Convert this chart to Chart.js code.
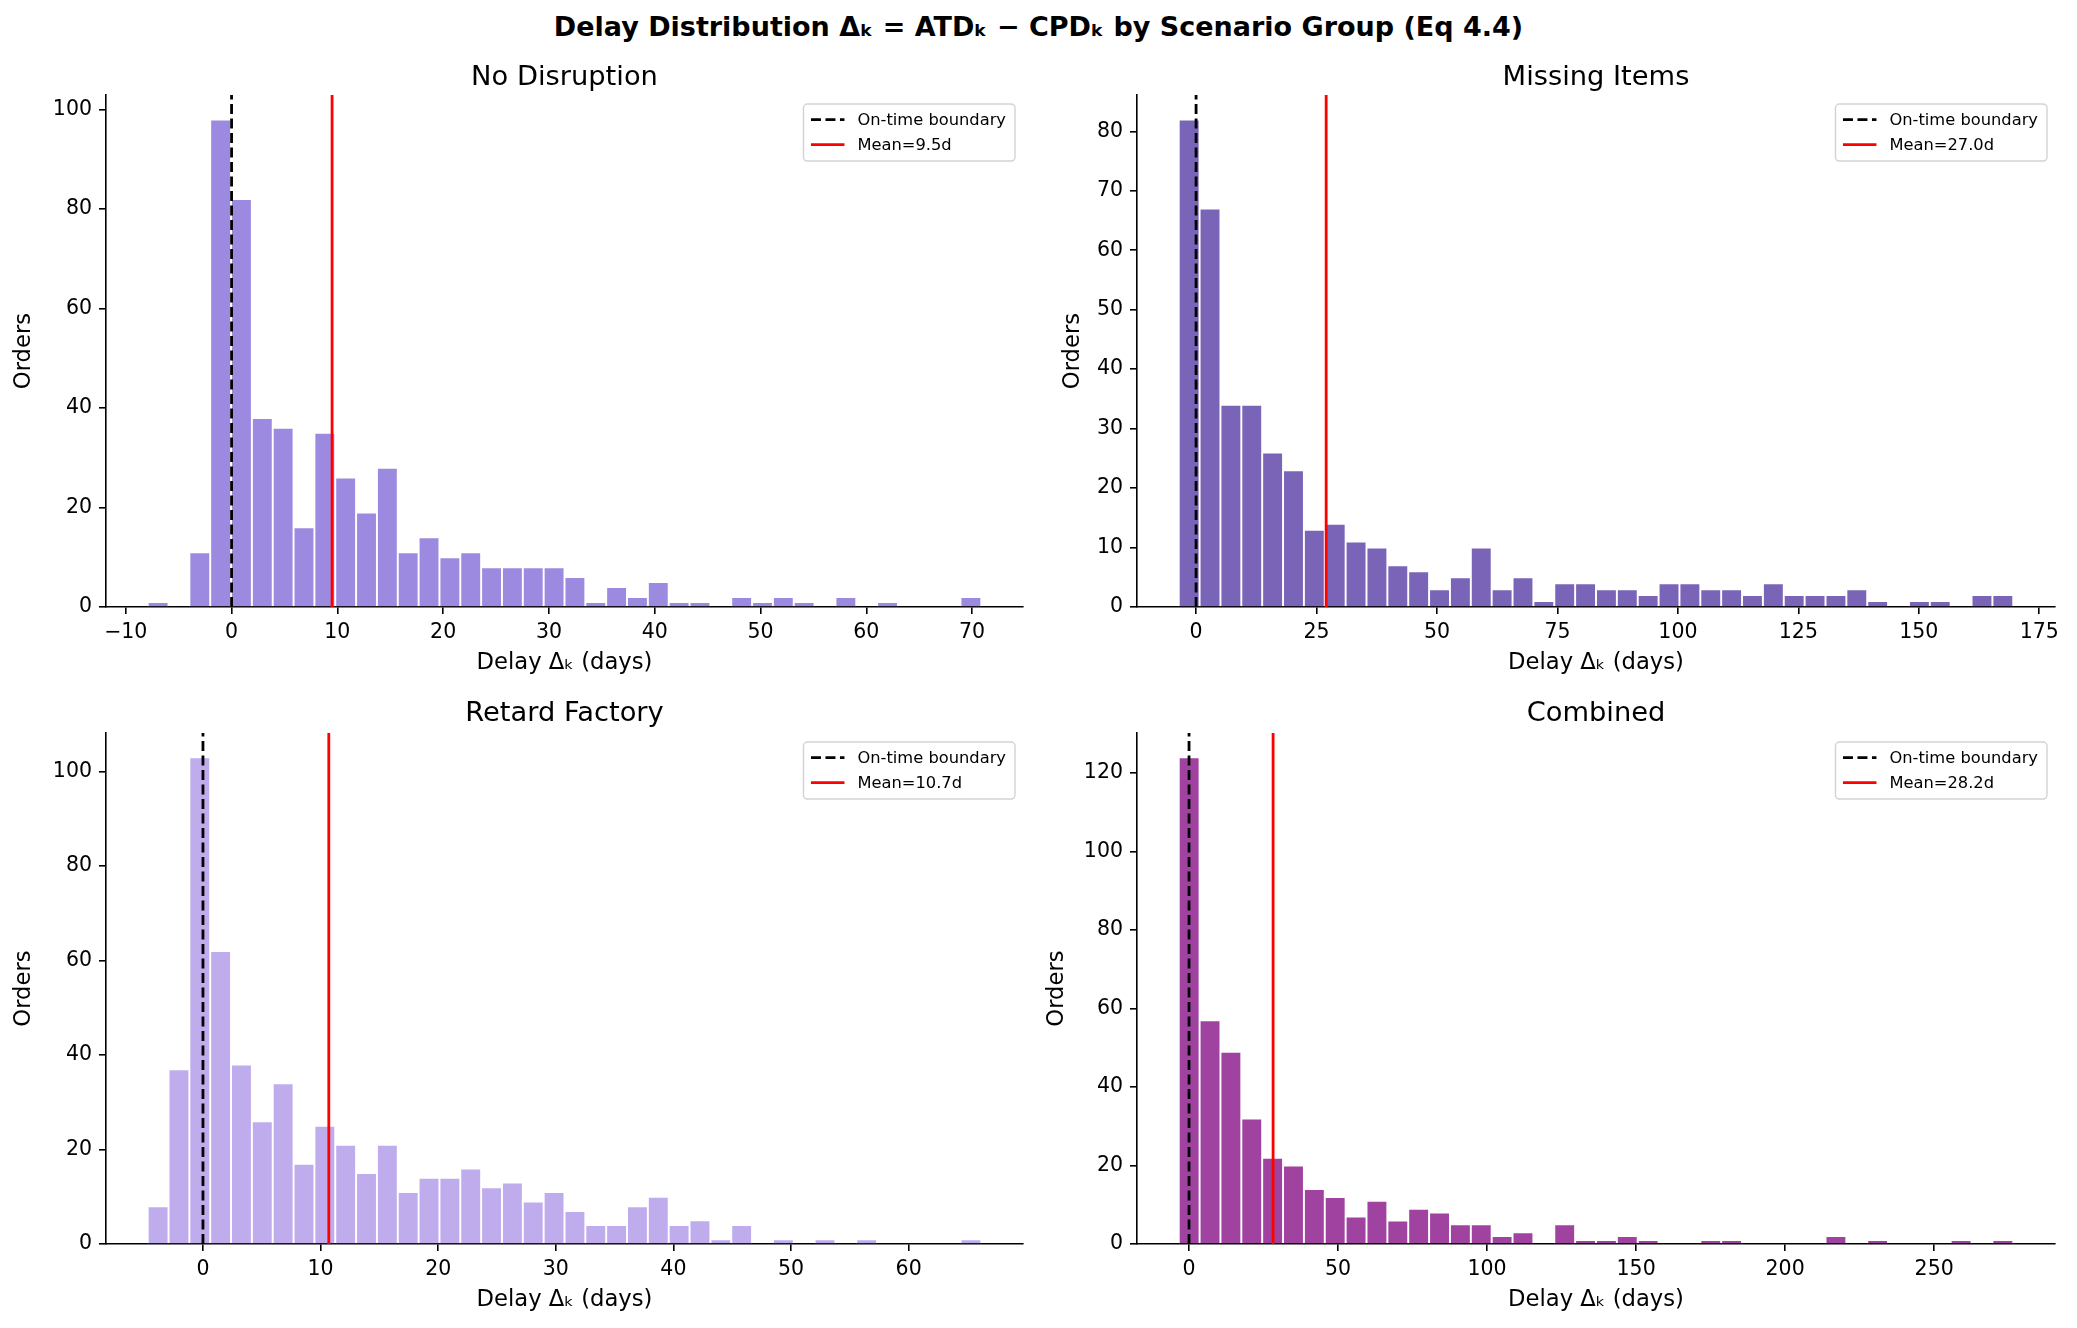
<!DOCTYPE html>
<html>
<head>
<meta charset="utf-8">
<script src="https://cdn.jsdelivr.net/npm/chart.js@4.4.1/dist/chart.umd.min.js"></script>
<style>
  html, body { margin: 0; padding: 0; background: #fff; }
  #page { position: relative; width: 2077px; height: 1328px; overflow: hidden; background: #fff; }
  #suptitle { position: absolute; left: 0; top: 8px; width: 2077px; text-align: center;
              font: bold 27px "DejaVu Sans", sans-serif; line-height: 37px; color: #000; }
  canvas { position: absolute; }
</style>
</head>
<body>
<div id="page">
  <div id="suptitle">Delay Distribution Δₖ = ATDₖ − CPDₖ by Scenario Group (Eq 4.4)</div>
  <canvas id="c0" width="1040" height="640" style="left:0px;top:40px"></canvas>
  <canvas id="c1" width="1037" height="640" style="left:1040px;top:40px"></canvas>
  <canvas id="c2" width="1040" height="648" style="left:0px;top:680px"></canvas>
  <canvas id="c3" width="1037" height="648" style="left:1040px;top:680px"></canvas>
</div>
<script>
// histogram data (40 bins per group)
var groups = ['No Disruption', 'Missing Items', 'Retard Factory', 'Combined'];
var binStart = [-7.93, -3.6, -4.7, -3.46];
var binWidth = [1.97, 4.33, 1.772, 7.0];

var countsNoDisruption = [1, 0, 11, 98, 82, 38, 36, 16, 35, 26, 19, 28, 11, 14, 10, 11, 8, 8, 8, 8,
  6, 1, 4, 2, 5, 1, 1, 0, 2, 1, 2, 1, 0, 2, 0, 1, 0, 0, 0, 2];
var countsMissingItems = [82, 67, 34, 34, 26, 23, 13, 14, 11, 10, 7, 6, 3, 5, 10, 3, 5, 1, 4, 4,
  3, 3, 2, 4, 4, 3, 3, 2, 4, 2, 2, 2, 3, 1, 0, 1, 1, 0, 2, 2];
var countsRetardFactory = [8, 37, 103, 62, 38, 26, 34, 17, 25, 21, 15, 21, 11, 14, 14, 16, 12, 13, 9, 11,
  7, 4, 4, 8, 10, 4, 5, 1, 4, 0, 1, 0, 1, 0, 1, 0, 0, 0, 0, 1];
var countsCombined = [124, 57, 49, 32, 22, 20, 14, 12, 7, 11, 6, 9, 8, 5, 5, 2, 3, 0, 5, 1,
  1, 2, 1, 0, 0, 1, 1, 0, 0, 0, 0, 2, 0, 1, 0, 0, 0, 1, 0, 1];
var counts = [countsNoDisruption, countsMissingItems, countsRetardFactory, countsCombined];

var meanDelay = [9.5, 27.0, 10.7, 28.2];
var onTimeBoundary = 0;

var xTicks = [
  [-10, 0, 10, 20, 30, 40, 50, 60, 70],
  [0, 25, 50, 75, 100, 125, 150, 175],
  [0, 10, 20, 30, 40, 50, 60],
  [0, 50, 100, 150, 200, 250]
];
var yTicks = [
  [0, 20, 40, 60, 80, 100],
  [0, 10, 20, 30, 40, 50, 60, 70, 80],
  [0, 20, 40, 60, 80, 100],
  [0, 20, 40, 60, 80, 100, 120]
];

var barColors = ['#9c8ae0', '#7a64b7', '#bfacec', '#a043a0'];

// per-panel layout (canvas pixels)
var panels = [
  { id: 'c0', yAxisW: 106, padRight: 17, titlePad: { top: 22, bottom: 0.3 }, xAxisH: 73, xTitlePad: 3.4, yTitlePad: 10.4 },
  { id: 'c1', yAxisW: 97, padRight: 22, titlePad: { top: 22, bottom: 0.3 }, xAxisH: 73, xTitlePad: 3.4, yTitlePad: 19.4 },
  { id: 'c2', yAxisW: 106, padRight: 17, titlePad: { top: 18, bottom: 2.3 }, xAxisH: 84, xTitlePad: 14.4, yTitlePad: 10.4 },
  { id: 'c3', yAxisW: 97, padRight: 22, titlePad: { top: 18, bottom: 2.3 }, xAxisH: 84, xTitlePad: 14.4, yTitlePad: 3.4 }
];

var FONT = '"DejaVu Sans", "Noto Sans", sans-serif';

// matplotlib-style legend box in the upper right of the axes
var legendBox = {
  id: 'legendBox',
  afterDraw: function (chart) {
    var ctx = chart.ctx, area = chart.chartArea;
    var items = chart.data.datasets.filter(function (d) { return d.type === 'line'; });
    ctx.save();
    ctx.font = '16.3px ' + FONT;
    var textW = Math.max.apply(null, items.map(function (d) { return ctx.measureText(d.label).width; }));
    var w = 7.5 + 33 + 13 + textW + 9.5, h = 57;
    var x0 = area.right - 8 - w, y0 = area.top + 9;
    ctx.beginPath();
    if (ctx.roundRect) ctx.roundRect(x0, y0, w, h, 4); else ctx.rect(x0, y0, w, h);
    ctx.fillStyle = 'rgba(255,255,255,0.8)';
    ctx.fill();
    ctx.strokeStyle = '#d3d3d3';
    ctx.lineWidth = 1.4;
    ctx.stroke();
    items.forEach(function (d, i) {
      var y = y0 + 15.5 + i * 25;
      ctx.beginPath();
      ctx.setLineDash(d.borderDash || []);
      ctx.strokeStyle = d.borderColor;
      ctx.lineWidth = d.borderWidth;
      ctx.moveTo(x0 + 7.5, y);
      ctx.lineTo(x0 + 41, y);
      ctx.stroke();
      ctx.setLineDash([]);
      ctx.fillStyle = '#000';
      ctx.textBaseline = 'middle';
      ctx.textAlign = 'left';
      ctx.fillText(d.label, x0 + 54, y + 1);
    });
    ctx.restore();
  }
};

function fmtTick(v) {
  return v < 0 ? '\u2212' + Math.abs(v) : String(v);
}

function makeChart(g) {
  var p = panels[g];
  var c = counts[g];
  var lo = binStart[g], hi = binStart[g] + c.length * binWidth[g];
  var xPad = 0.05 * (hi - lo);
  var yMax = 1.05 * Math.max.apply(null, c);

  var bars = c.map(function (v, k) {
    return { x: binStart[g] + (k + 0.5) * binWidth[g], y: v };
  });

  new Chart(document.getElementById(p.id), {
    type: 'bar',
    data: {
      datasets: [
        {
          label: groups[g],
          data: bars,
          backgroundColor: barColors[g],
          borderColor: 'rgba(255,255,255,0.85)',
          borderWidth: 1.3,
          barPercentage: 1,
          categoryPercentage: 1,
          order: 3
        },
        {
          type: 'line',
          label: 'On-time boundary',
          data: [{ x: onTimeBoundary, y: 0 }, { x: onTimeBoundary, y: yMax }],
          borderColor: '#000',
          borderWidth: 2.8,
          borderDash: [10, 4.5],
          pointRadius: 0,
          fill: false,
          order: 2
        },
        {
          type: 'line',
          label: 'Mean=' + meanDelay[g].toFixed(1) + 'd',
          data: [{ x: meanDelay[g], y: 0 }, { x: meanDelay[g], y: yMax }],
          borderColor: '#ff0000',
          borderWidth: 2.8,
          pointRadius: 0,
          fill: false,
          order: 1
        }
      ]
    },
    options: {
      responsive: false,
      animation: false,
      layout: { padding: { left: 0, right: p.padRight, top: 0, bottom: 0 } },
      plugins: {
        legend: { display: false },
        tooltip: { enabled: false },
        title: {
          display: true,
          fullSize: false,
          text: groups[g],
          color: '#000',
          font: { family: FONT, size: 27.3, weight: 'normal', lineHeight: 1.2 },
          padding: p.titlePad
        }
      },
      scales: {
        x: {
          type: 'linear',
          min: lo - xPad,
          max: hi + xPad,
          offset: false,
          grid: { display: true, offset: false, drawOnChartArea: false, drawTicks: true, tickLength: 7, color: '#000', lineWidth: 1.6 },
          border: { display: true, color: '#000', width: 1.6 },
          ticks: { autoSkip: false, maxRotation: 0, padding: 6, color: '#000', font: { family: FONT, size: 20.5 }, callback: fmtTick },
          afterBuildTicks: function (s) { s.ticks = xTicks[g].map(function (v) { return { value: v }; }); },
          afterFit: function (s) { s.height = p.xAxisH; },
          title: { display: true, text: 'Delay Δₖ (days)', color: '#000', font: { family: FONT, size: 22.7, lineHeight: 1.2 }, padding: { top: 0, bottom: p.xTitlePad } }
        },
        y: {
          type: 'linear',
          min: 0,
          max: yMax,
          grid: { display: true, drawOnChartArea: false, drawTicks: true, tickLength: 7, color: '#000', lineWidth: 1.6 },
          border: { display: true, color: '#000', width: 1.6 },
          ticks: { autoSkip: false, padding: 7, color: '#000', font: { family: FONT, size: 20.5 }, callback: fmtTick },
          afterBuildTicks: function (s) { s.ticks = yTicks[g].map(function (v) { return { value: v }; }); },
          afterFit: function (s) { s.width = p.yAxisW; },
          title: { display: true, text: 'Orders', color: '#000', font: { family: FONT, size: 22.7, lineHeight: 1.2 }, padding: { top: p.yTitlePad, bottom: 0 } }
        }
      }
    },
    plugins: [legendBox]
  });
}

for (var g = 0; g < groups.length; g++) makeChart(g);
</script>
</body>
</html>
